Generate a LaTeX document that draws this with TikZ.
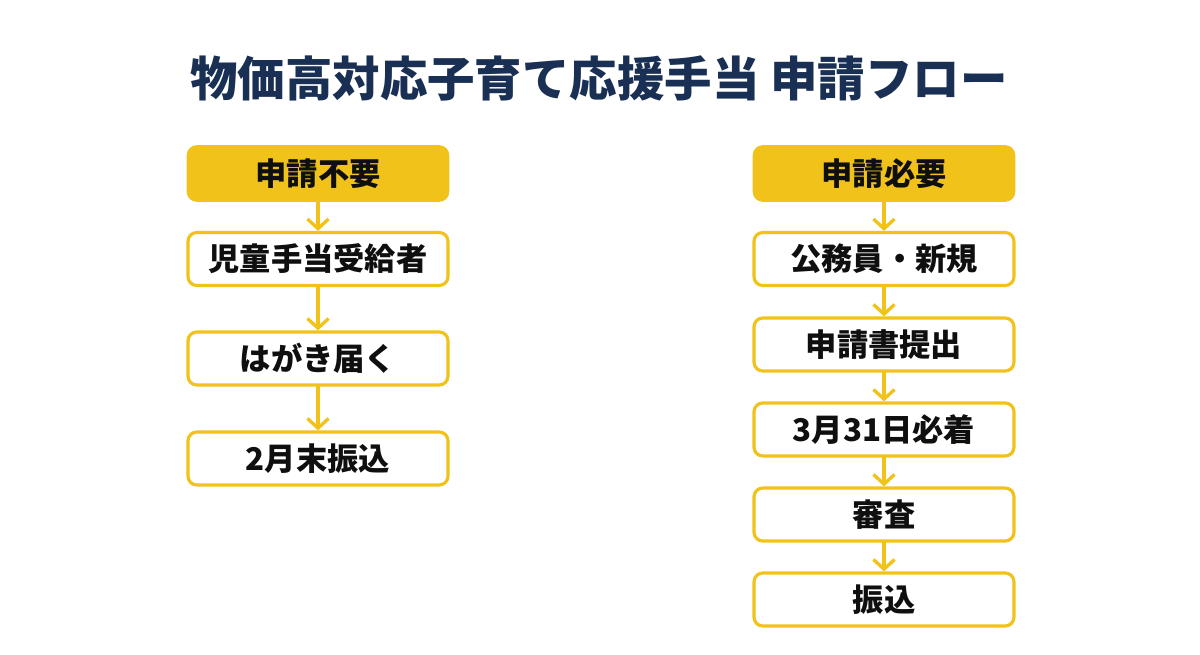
\documentclass[tikz,border=0pt]{standalone}
\usepackage{fontspec}
\newfontfamily\cjk{Noto Sans CJK JP}[BoldFont={Noto Sans CJK JP Black}]
\usetikzlibrary{arrows.meta}
\definecolor{gold}{RGB}{241,195,26}
\definecolor{navy}{RGB}{25,48,84}
\definecolor{ink}{RGB}{15,15,15}
\tikzset{
	headbox/.style={fill=gold, draw=gold, line width=1.5pt, rounded corners=5pt, minimum width=5.2cm, minimum height=1.08cm, inner sep=0pt, text=ink},
	stepbox/.style={fill=white, draw=gold, line width=1.8pt, rounded corners=5pt, minimum width=5.2cm, minimum height=1.06cm, inner sep=0pt, text=ink},
	flowarrow/.style={draw=gold, line width=1.9pt, ->}
}
\begin{document}
\begin{tikzpicture}[x=0.02cm, y=-0.02cm, font=\cjk\bfseries\fontsize{17.8}{20}\selectfont, line join=round, line cap=round, >={Straight Barb[length=5.5pt, width=12pt]}]
	\def \lx{318};
	\def \rx{884};
	\useasboundingbox[fill=white] (0,0) rectangle (1200,655);
	\node[text=navy, font=\cjk\bfseries\fontsize{27}{30}\selectfont] (title) at (599,78) {物価高対応子育て応援手当 申請フロー};
	% left column
	\node[headbox] (nohead) at (\lx,173.5) {申請不要};
	\node[stepbox] (no1) at (\lx,259) {児童手当受給者};
	\node[stepbox] (no2) at (\lx,358.5) {はがき届く};
	\node[stepbox] (no3) at (\lx,458.5) {2月末振込};
	\draw[flowarrow] (nohead) -- (no1);
	\draw[flowarrow] (no1) -- (no2);
	\draw[flowarrow] (no2) -- (no3);
	% right column
	\node[headbox] (yeshead) at (\rx,173.5) {申請必要};
	\node[stepbox] (yes1) at (\rx,259) {公務員・新規};
	\node[stepbox] (yes2) at (\rx,344.5) {申請書提出};
	\node[stepbox] (yes3) at (\rx,429.5) {3月31日必着};
	\node[stepbox] (yes4) at (\rx,514.5) {審査};
	\node[stepbox] (yes5) at (\rx,599.5) {振込};
	\draw[flowarrow] (yeshead) -- (yes1);
	\draw[flowarrow] (yes1) -- (yes2);
	\draw[flowarrow] (yes2) -- (yes3);
	\draw[flowarrow] (yes3) -- (yes4);
	\draw[flowarrow] (yes4) -- (yes5);
\end{tikzpicture}
\end{document}
